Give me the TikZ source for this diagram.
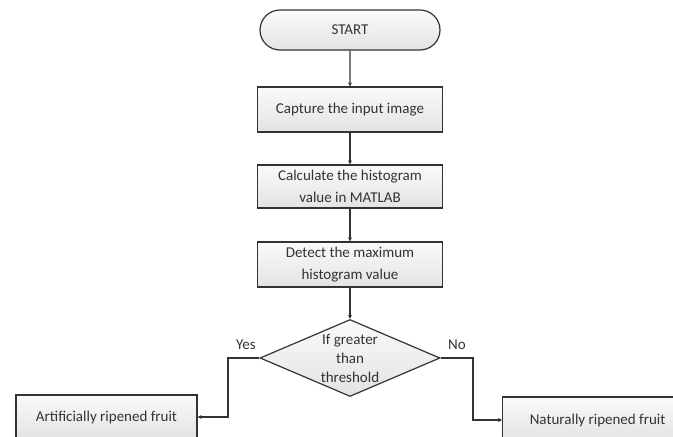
\documentclass[tikz,border=0pt]{standalone}
\usepackage{fontspec}
\setmainfont{Carlito}
\usetikzlibrary{shapes.misc,shapes.geometric,arrows.meta}
\begin{document}
\begin{tikzpicture}[x=1pt,y=-1pt,
  boxstyle/.style={draw=black!80, line width=1.2pt, top color=gray!4, bottom color=gray!22, minimum width=185pt, inner sep=2pt, align=center, font=\fontsize{15}{22}\selectfont, text=black!80},
  arr/.style={draw=black!80, line width=1.2pt, -{Stealth[length=4pt,width=4pt]}},
  lbl/.style={font=\fontsize{15}{18}\selectfont, text=black!80}]
\useasboundingbox (0,0) rectangle (673,437);
\clip (0,0) rectangle (673,437);
\node[boxstyle, rounded rectangle, minimum width=184pt, minimum height=40pt] (start) at (350,30) {START};
\node[boxstyle, minimum height=45pt] (b1) at (350,109.5) {Capture the input image};
\node[boxstyle, minimum height=43pt] (b2) at (350,186.5) {Calculate the histogram\\value in MATLAB};
\node[boxstyle, minimum height=45pt] (b3) at (350,264.5) {Detect the maximum\\histogram value};
\node[boxstyle, diamond, minimum width=180pt, minimum height=77pt, inner sep=0pt] (d) at (350,358) {};
\node[lbl, align=center, font=\fontsize{15}{19}\selectfont] (dt) at (350,358) {If greater\\than\\threshold};
\node[boxstyle, minimum width=181pt, minimum height=44pt] (l) at (106.5,417) {Artificially ripened fruit};
\node[boxstyle, minimum width=190pt, minimum height=46pt, anchor=west] (r) at (502,420) {Naturally ripened fruit};
\coordinate (lc) at (228,358);
\coordinate (rc) at (473,358);
\draw[arr] (start) -- (b1);
\draw[arr] (b1) -- (b2);
\draw[arr] (b2) -- (b3);
\draw[arr] (b3) -- (d);
\draw[arr] (d.west) -- (lc) |- (l.east);
\draw[arr] (d.east) -- (rc) |- (r.west);
\node[lbl] (yes) at (246,345) {Yes};
\node[lbl] (no) at (457,345) {No};
\end{tikzpicture}
\end{document}
